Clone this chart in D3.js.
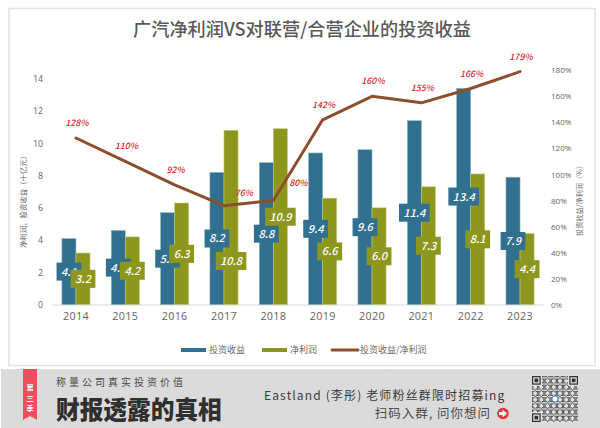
<!DOCTYPE html>
<html>
<head>
<meta charset="utf-8">
<style>
  html, body { margin: 0; padding: 0; background: #fff; }
  svg { display: block; }
  text { font-family: "Noto Sans CJK SC", "Noto Sans", sans-serif; }
  .axis path, .axis line { display: none; }
  .axis text { font-family: "Open Sans", "Noto Sans", sans-serif; fill: #636363; }
</style>
<script src="https://cdn.jsdelivr.net/npm/d3@7"></script>
</head>
<body>
<div id="chart"></div>
<script>
const years = ["2014", "2015", "2016", "2017", "2018", "2019", "2020", "2021", "2022", "2023"];
const investIncome = [4.1, 4.6, 5.7, 8.2, 8.8, 9.4, 9.6, 11.4, 13.4, 7.9];
const netProfit = [3.2, 4.2, 6.3, 10.8, 10.9, 6.6, 6.0, 7.3, 8.1, 4.4];
const ratio = [128, 110, 92, 76, 80, 142, 160, 155, 166, 179];
const leftTicks = [0, 2, 4, 6, 8, 10, 12, 14];
const rightTicks = [0, 20, 40, 60, 80, 100, 120, 140, 160, 180];

const blue = "#31708f", olive = "#8d971e", brown = "#8c4f2e", red = "#dc1f2b";
const width = 600, height = 428;

const svg = d3.select("#chart").append("svg")
  .attr("width", width)
  .attr("height", height);

// grainy banner texture
const noise = svg.append("defs").append("filter").attr("id", "grain")
  .attr("x", 0).attr("y", 0).attr("width", "100%").attr("height", "100%");
noise.append("feTurbulence").attr("type", "fractalNoise").attr("baseFrequency", 0.9).attr("numOctaves", 2).attr("seed", 4);
noise.append("feColorMatrix").attr("values", "0 0 0 0 0.5  0 0 0 0 0.5  0 0 0 0 0.5  0 0 0 0.22 0");
noise.append("feComposite").attr("in2", "SourceGraphic").attr("operator", "over");

// card frame
svg.append("rect").attr("x", 9).attr("y", 8.5).attr("width", 586).attr("height", 357)
  .attr("fill", "#fff").attr("stroke", "#e2e2e2").attr("stroke-width", 1.5);

svg.append("text")
  .attr("x", 302).attr("y", 36)
  .attr("text-anchor", "middle")
  .attr("font-size", 18.2)
  .attr("font-weight", 500)
  .attr("fill", "#595959")
  .text("广汽净利润VS对联营/合营企业的投资收益");

// scales
const x = d3.scaleBand().domain(years).range([51.3, 544.7]).paddingInner(0.43).paddingOuter(0.215);
const xBar = d3.scaleBand().domain([0, 1]).range([0, x.bandwidth()]);
const yLeft = d3.scaleLinear().domain([0, 14]).range([304.7, 78.7]);
const yRight = d3.scaleLinear().domain([0, 180]).range([304.7, 70.3]);

// axes
svg.append("g").attr("class", "axis")
  .attr("transform", "translate(43,0)")
  .call(d3.axisLeft(yLeft).tickValues(leftTicks).tickSize(0).tickPadding(0))
  .selectAll("text").attr("font-size", 8.8);

svg.append("g").attr("class", "axis")
  .attr("transform", "translate(551,0)")
  .call(d3.axisRight(yRight).tickValues(rightTicks).tickSize(0).tickPadding(0).tickFormat(d => d + "%"))
  .selectAll("text").attr("font-size", 8);

svg.append("g").attr("class", "axis")
  .attr("transform", "translate(0,304.7)")
  .call(d3.axisBottom(x).tickSize(0).tickPadding(7.5))
  .selectAll("text").attr("font-size", 10.8).attr("letter-spacing", 0.3);

svg.append("line")
  .attr("x1", 52).attr("x2", 544).attr("y1", 305).attr("y2", 305)
  .attr("stroke", "#d9d9d9").attr("stroke-width", 1.2);

svg.append("text")
  .attr("transform", "translate(26,200) rotate(-90)")
  .attr("text-anchor", "middle").attr("font-size", 7.4).attr("fill", "#6b6b6b")
  .text("净利润、投资收益（十亿元）");

svg.append("text")
  .attr("transform", "translate(582,199) rotate(-90)")
  .attr("text-anchor", "middle").attr("font-size", 7.2).attr("fill", "#6b6b6b")
  .text("投资收益/净利润（%）");

// bars
const series = [
  { values: investIncome, color: blue, stroke: "#8fb6c9" },
  { values: netProfit, color: olive, stroke: "#c4ca7d" }
];

series.forEach((s, i) => {
  svg.append("g").selectAll("rect")
    .data(s.values)
    .join("rect")
    .attr("x", (d, j) => x(years[j]) + xBar(i))
    .attr("y", d => yLeft(d))
    .attr("width", xBar.bandwidth())
    .attr("height", d => yLeft(0) - yLeft(d))
    .attr("fill", s.color)
    .attr("stroke", s.stroke)
    .attr("stroke-width", 0.6);
});

// the 10.8 tag is pushed down off the ratio line
const tagShift = d => d === 10.8 ? 43.5 : 0;

// value tags, blue first so that the olive ones sit on top
series.forEach((s, i) => {
  const tag = svg.append("g").selectAll("g")
    .data(s.values)
    .join("g")
    .attr("transform", (d, j) => {
      const cx = x(years[j]) + xBar(i) + xBar.bandwidth() / 2;
      return `translate(${cx},${(yLeft(0) + yLeft(d)) / 2 + tagShift(d)})`;
    });
  tag.append("rect")
    .attr("x", d => d >= 10 ? -15.3 : -12.4)
    .attr("y", -9)
    .attr("width", d => d >= 10 ? 30.6 : 24.8)
    .attr("height", 18)
    .attr("fill", s.color);
  tag.append("text")
    .attr("text-anchor", "middle")
    .attr("dy", "0.36em")
    .attr("font-size", 11)
    .attr("font-style", "italic")
    .attr("font-weight", 500)
    .attr("font-family", "'Open Sans', sans-serif")
    .attr("fill", "#fff")
    .text(d => d.toFixed(1));
});

// ratio line
const line = d3.line()
  .x((d, i) => x(years[i]) + x.bandwidth() / 2)
  .y(d => yRight(d));

svg.append("path")
  .attr("d", line(ratio))
  .attr("fill", "none")
  .attr("stroke", brown)
  .attr("stroke-width", 3)
  .attr("stroke-linejoin", "round")
  .attr("stroke-linecap", "round");

// 2017 and 2018 labels are moved to the right of the line
const labelDx = d => d === 76 ? 20 : d === 80 ? 25 : 1;
const labelDy = d => d === 76 ? -10 : d === 80 ? -15 : -12;

svg.append("g").selectAll("text")
  .data(ratio)
  .join("text")
  .attr("x", (d, i) => x(years[i]) + x.bandwidth() / 2 + labelDx(d))
  .attr("y", d => yRight(d) + labelDy(d))
  .attr("text-anchor", "middle")
  .attr("font-size", 8.8)
  .attr("font-style", "italic")
  .attr("font-weight", 500)
  .attr("font-family", "'Open Sans', sans-serif")
  .attr("fill", red)
  .text(d => d + "%");

// legend
const legend = svg.append("g").attr("font-size", 9).attr("fill", "#6b6b6b");
legend.append("rect").attr("x", 181).attr("y", 348).attr("width", 25).attr("height", 4).attr("fill", blue);
legend.append("text").attr("x", 209).attr("y", 353.3).text("投资收益");
legend.append("rect").attr("x", 262).attr("y", 348).attr("width", 25).attr("height", 4).attr("fill", olive);
legend.append("text").attr("x", 290).attr("y", 353.3).text("净利润");
legend.append("line").attr("x1", 332).attr("x2", 358).attr("y1", 350).attr("y2", 350)
  .attr("stroke", brown).attr("stroke-width", 3).attr("stroke-linecap", "round");
legend.append("text").attr("x", 360).attr("y", 353.3).text("投资收益/净利润");

// bottom banner
const banner = svg.append("g");
banner.append("rect").attr("x", 1).attr("y", 369).attr("width", 599).attr("height", 59)
  .attr("fill", "#dedede").attr("filter", "url(#grain)");

banner.append("path")
  .attr("d", "M23,369H37V420L30,416L23,420Z")
  .attr("fill", "#e8505f");
["第", "三", "季"].forEach((c, i) => {
  banner.append("text")
    .attr("x", 30).attr("y", 390 + i * 10.6)
    .attr("text-anchor", "middle")
    .attr("font-size", 7.2).attr("font-weight", 700).attr("fill", "#fff")
    .text(c);
});

banner.append("text")
  .attr("x", 56).attr("y", 385.5)
  .attr("font-size", 10).attr("letter-spacing", 3).attr("fill", "#4a4a4a")
  .text("称量公司真实投资价值");

// stretched a little: the original headline face is tall and narrow
banner.append("text")
  .attr("transform", "translate(56,418.5) scale(1,1.06)")
  .attr("font-size", 23.7).attr("font-weight", 900).attr("fill", "#2f2f2f")
  .text("财报透露的真相");

banner.append("text")
  .attr("x", 264).attr("y", 399.5)
  .attr("font-size", 12).attr("letter-spacing", 1.15).attr("fill", "#3a3a3a")
  .attr("font-family", "'Open Sans', 'Noto Sans CJK SC', sans-serif")
  .text("Eastland (李彤) 老师粉丝群限时招募ing");

banner.append("text")
  .attr("x", 491).attr("y", 418)
  .attr("text-anchor", "end")
  .attr("font-size", 12.5).attr("letter-spacing", 1).attr("fill", "#4a4a4a")
  .text("扫码入群, 问你想问");

banner.append("circle").attr("cx", 503).attr("cy", 413.5).attr("r", 5.8).attr("fill", "#e5343c");
banner.append("path").attr("d", "M499,412.1H502.6V409.7L507.2,413.5L502.6,417.3V414.9H499Z").attr("fill", "#fff");

// QR code look-alike in the corner
const cells = 37, cell = 46 / cells, qrX = 532, qrY = 376;
const qr = banner.append("g").attr("transform", `translate(${qrX},${qrY})`);
qr.append("rect").attr("width", 46).attr("height", 46).attr("fill", "#e4e4e4");
const inFinder = (r, c) => (r < 8 && c < 8) || (r < 8 && c >= cells - 8) || (r >= cells - 8 && c < 8);
d3.range(cells).forEach(r => d3.range(cells).forEach(c => {
  if (inFinder(r, c)) return;
  if ((r * r * 7 + c * c * 13 + r * c * 5 + r + c * 3) % 5 < 2) {
    qr.append("rect").attr("x", c * cell).attr("y", r * cell)
      .attr("width", cell).attr("height", cell).attr("fill", "#555");
  }
}));
[[0, 0], [cells - 7, 0], [0, cells - 7]].forEach(([c, r]) => {
  qr.append("rect").attr("x", (c + 0.5) * cell).attr("y", (r + 0.5) * cell)
    .attr("width", 6 * cell).attr("height", 6 * cell)
    .attr("fill", "none").attr("stroke", "#333").attr("stroke-width", cell);
  qr.append("rect").attr("x", (c + 2) * cell).attr("y", (r + 2) * cell)
    .attr("width", 3 * cell).attr("height", 3 * cell).attr("fill", "#333");
});
qr.append("circle").attr("cx", 23).attr("cy", 23).attr("r", 3).attr("fill", "#fff")
  .attr("stroke", "#5b8fc7").attr("stroke-width", 1.2);
</script>
</body>
</html>
